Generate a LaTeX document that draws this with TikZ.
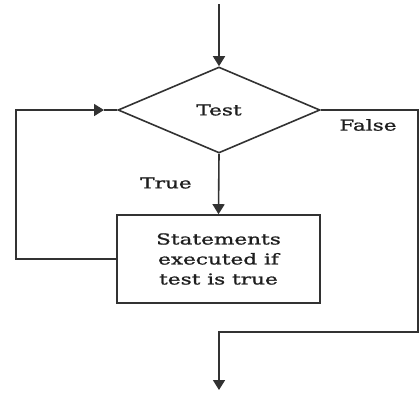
\documentclass[tikz,border=0pt]{standalone}
\usepackage{fontspec}
\usetikzlibrary{shapes.geometric,arrows.meta}
\newfontfamily\flowfont[FakeStretch=1.44,FakeBold=1.2]{DejaVu Serif}
\definecolor{linecol}{RGB}{50,50,50}
\definecolor{textcol}{RGB}{30,30,30}
\begin{document}
\begin{tikzpicture}[x=1pt,y=-1pt,
  flow/.style={draw=linecol,line width=1.6pt},
  tip/.style={-{Triangle[length=10pt,width=12pt]}},
  lbl/.style={font=\flowfont\fontsize{15}{20}\selectfont,text=textcol,inner sep=0pt},
  decision/.style={diamond,flow,minimum width=202pt,minimum height=86pt,inner sep=0pt,lbl},
  process/.style={rectangle,flow,minimum width=203pt,minimum height=88pt,align=center,lbl}]
  \useasboundingbox (0,0) rectangle (419,394);

  % shapes
  \node[decision] (test) at (219,110) {Test};
  \node[process] (body) at (218.5,259) {Statements\\executed if\\test is true};

  % free ends and corners
  \coordinate (entry) at (219,4);
  \coordinate (exit) at (219,390);
  \coordinate (back) at (104,110);
  \coordinate (lb) at (16,259);
  \coordinate (lt) at (16,110);
  \coordinate (rt) at (418,110);
  \coordinate (rb) at (418,332);
  \coordinate (fb) at (219,332);

  % connectors
  \draw[flow,tip] (entry) -- (test.north);
  \draw[flow,tip] (test.south) -- (body.north);
  \draw[flow,tip] (body.west) -- (lb) -- (lt) -- (back);
  \draw[flow] (back) -- (test.west);
  \draw[flow,tip] (test.east) -- (rt) -- (rb) -- (fb) -- (exit);

  % branch labels
  \node[lbl] (truelbl) at (166,183) {True};
  \node[lbl] (falselbl) at (368,125) {False};
\end{tikzpicture}
\end{document}
